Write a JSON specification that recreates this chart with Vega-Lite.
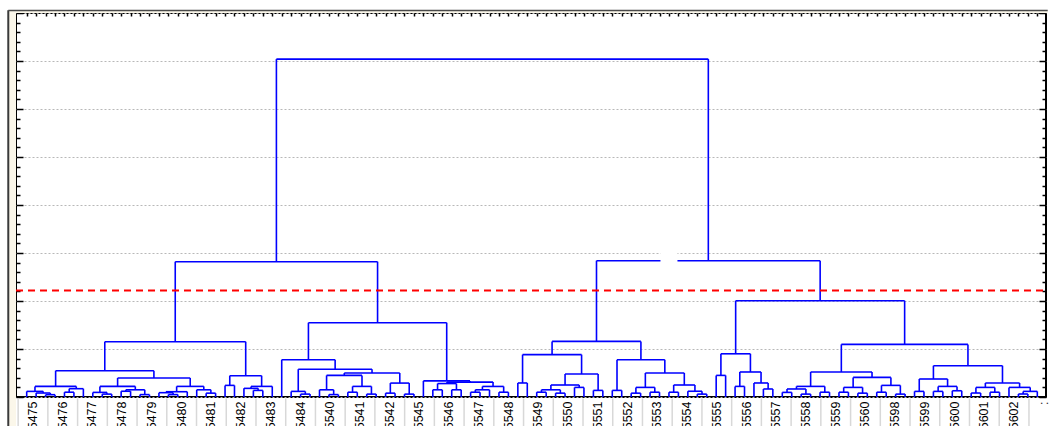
{
  "$schema": "https://vega.github.io/schema/vega-lite/v6.json",
  "width": 1030,
  "height": 384,
  "autosize": {"type": "none"},
  "padding": {"left": 16, "top": 13, "right": 3, "bottom": 29},
  "background": "#ffffff",
  "config": {
    "view": {"stroke": "#000000", "strokeWidth": 2},
    "axis": {"labels": false, "title": null, "domain": false}
  },
  "datasets": {
    "one": [{"k": 1}],
    "merges": [
      {"l": 2, "lh": 0, "r": 3, "rh": 0, "h": 0.048},
      {"l": 1, "lh": 0, "r": 2.5, "rh": 0.048, "h": 0.083},
      {"l": 0, "lh": 0, "r": 1.75, "rh": 0.083, "h": 0.117},
      {"l": 4, "lh": 0, "r": 5, "rh": 0, "h": 0.1},
      {"l": 4.5, "lh": 0.1, "r": 6, "rh": 0, "h": 0.173},
      {"l": 0.875, "lh": 0.117, "r": 5.25, "rh": 0.173, "h": 0.221},
      {"l": 8, "lh": 0, "r": 9, "rh": 0, "h": 0.06},
      {"l": 7, "lh": 0, "r": 8.5, "rh": 0.06, "h": 0.096},
      {"l": 10, "lh": 0, "r": 11, "rh": 0, "h": 0.12},
      {"l": 12, "lh": 0, "r": 13, "rh": 0, "h": 0.05},
      {"l": 10.5, "lh": 0.12, "r": 12.5, "rh": 0.05, "h": 0.15},
      {"l": 7.75, "lh": 0.096, "r": 11.5, "rh": 0.15, "h": 0.221},
      {"l": 15, "lh": 0, "r": 16, "rh": 0, "h": 0.05},
      {"l": 14, "lh": 0, "r": 15.5, "rh": 0.05, "h": 0.09},
      {"l": 14.75, "lh": 0.09, "r": 17, "rh": 0, "h": 0.11},
      {"l": 19, "lh": 0, "r": 20, "rh": 0, "h": 0.08},
      {"l": 18, "lh": 0, "r": 19.5, "rh": 0.08, "h": 0.15},
      {"l": 15.875, "lh": 0.11, "r": 18.75, "rh": 0.15, "h": 0.221},
      {"l": 9.625, "lh": 0.221, "r": 17.3125, "rh": 0.221, "h": 0.396},
      {"l": 3.0625, "lh": 0.221, "r": 13.46875, "rh": 0.396, "h": 0.548},
      {"l": 21, "lh": 0, "r": 22, "rh": 0, "h": 0.242},
      {"l": 24, "lh": 0, "r": 25, "rh": 0, "h": 0.1375},
      {"l": 23, "lh": 0, "r": 24.5, "rh": 0.1375, "h": 0.18},
      {"l": 23.75, "lh": 0.18, "r": 26, "rh": 0, "h": 0.221},
      {"l": 21.5, "lh": 0.242, "r": 24.875, "rh": 0.221, "h": 0.444},
      {"l": 8.265625, "lh": 0.548, "r": 23.1875, "rh": 0.444, "h": 1.152},
      {"l": 29, "lh": 0, "r": 30, "rh": 0, "h": 0.06},
      {"l": 28, "lh": 0, "r": 29.5, "rh": 0.06, "h": 0.117},
      {"l": 32, "lh": 0, "r": 33, "rh": 0, "h": 0.05},
      {"l": 31, "lh": 0, "r": 32.5, "rh": 0.05, "h": 0.15},
      {"l": 34, "lh": 0, "r": 35, "rh": 0, "h": 0.1},
      {"l": 36, "lh": 0, "r": 37, "rh": 0, "h": 0.06},
      {"l": 34.5, "lh": 0.1, "r": 36.5, "rh": 0.06, "h": 0.221},
      {"l": 31.75, "lh": 0.15, "r": 35.5, "rh": 0.221, "h": 0.45},
      {"l": 38, "lh": 0, "r": 39, "rh": 0, "h": 0.08},
      {"l": 40, "lh": 0, "r": 41, "rh": 0, "h": 0.06},
      {"l": 38.5, "lh": 0.08, "r": 40.5, "rh": 0.06, "h": 0.29},
      {"l": 33.625, "lh": 0.45, "r": 39.5, "rh": 0.29, "h": 0.5},
      {"l": 28.75, "lh": 0.117, "r": 36.5625, "rh": 0.5, "h": 0.579},
      {"l": 27, "lh": 0, "r": 32.65625, "rh": 0.579, "h": 0.777},
      {"l": 43, "lh": 0, "r": 44, "rh": 0, "h": 0.15},
      {"l": 45, "lh": 0, "r": 46, "rh": 0, "h": 0.15},
      {"l": 43.5, "lh": 0.15, "r": 45.5, "rh": 0.15, "h": 0.28},
      {"l": 47, "lh": 0, "r": 48, "rh": 0, "h": 0.1},
      {"l": 47.5, "lh": 0.1, "r": 49, "rh": 0, "h": 0.15},
      {"l": 50, "lh": 0, "r": 51, "rh": 0, "h": 0.1},
      {"l": 48.25, "lh": 0.15, "r": 50.5, "rh": 0.1, "h": 0.22},
      {"l": 44.5, "lh": 0.28, "r": 49.375, "rh": 0.22, "h": 0.31},
      {"l": 42, "lh": 0, "r": 46.9375, "rh": 0.31, "h": 0.335},
      {"l": 29.828125, "lh": 0.777, "r": 44.46875, "rh": 0.335, "h": 1.548},
      {"l": 15.7265625, "lh": 1.152, "r": 37.1484375, "rh": 1.548, "h": 2.819},
      {"l": 52, "lh": 0, "r": 53, "rh": 0, "h": 0.292},
      {"l": 54, "lh": 0, "r": 55, "rh": 0, "h": 0.1},
      {"l": 56, "lh": 0, "r": 57, "rh": 0, "h": 0.08},
      {"l": 54.5, "lh": 0.1, "r": 56.5, "rh": 0.08, "h": 0.15},
      {"l": 58, "lh": 0, "r": 59, "rh": 0, "h": 0.2},
      {"l": 55.5, "lh": 0.15, "r": 58.5, "rh": 0.2, "h": 0.25},
      {"l": 60, "lh": 0, "r": 61, "rh": 0, "h": 0.1375},
      {"l": 57, "lh": 0.25, "r": 60.5, "rh": 0.1375, "h": 0.479},
      {"l": 52.5, "lh": 0.292, "r": 58.75, "rh": 0.479, "h": 0.883},
      {"l": 62, "lh": 0, "r": 63, "rh": 0, "h": 0.1375},
      {"l": 64, "lh": 0, "r": 65, "rh": 0, "h": 0.08},
      {"l": 66, "lh": 0, "r": 67, "rh": 0, "h": 0.1},
      {"l": 64.5, "lh": 0.08, "r": 66.5, "rh": 0.1, "h": 0.2},
      {"l": 68, "lh": 0, "r": 69, "rh": 0, "h": 0.1},
      {"l": 71, "lh": 0, "r": 72, "rh": 0, "h": 0.06},
      {"l": 70, "lh": 0, "r": 71.5, "rh": 0.06, "h": 0.12},
      {"l": 68.5, "lh": 0.1, "r": 70.75, "rh": 0.12, "h": 0.25},
      {"l": 65.5, "lh": 0.2, "r": 69.625, "rh": 0.25, "h": 0.5},
      {"l": 62.5, "lh": 0.1375, "r": 67.5625, "rh": 0.5, "h": 0.777},
      {"l": 55.625, "lh": 0.883, "r": 65.03125, "rh": 0.777, "h": 1.158},
      {"l": 73, "lh": 0, "r": 74, "rh": 0, "h": 0.45},
      {"l": 75, "lh": 0, "r": 76, "rh": 0, "h": 0.221},
      {"l": 78, "lh": 0, "r": 79, "rh": 0, "h": 0.167},
      {"l": 77, "lh": 0, "r": 78.5, "rh": 0.167, "h": 0.292},
      {"l": 75.5, "lh": 0.221, "r": 77.75, "rh": 0.292, "h": 0.521},
      {"l": 73.5, "lh": 0.45, "r": 76.625, "rh": 0.521, "h": 0.9},
      {"l": 80, "lh": 0, "r": 81, "rh": 0, "h": 0.096},
      {"l": 82, "lh": 0, "r": 83, "rh": 0, "h": 0.06},
      {"l": 80.5, "lh": 0.096, "r": 82.5, "rh": 0.06, "h": 0.167},
      {"l": 84, "lh": 0, "r": 85, "rh": 0, "h": 0.1},
      {"l": 81.5, "lh": 0.167, "r": 84.5, "rh": 0.1, "h": 0.221},
      {"l": 86, "lh": 0, "r": 87, "rh": 0, "h": 0.1},
      {"l": 88, "lh": 0, "r": 89, "rh": 0, "h": 0.08},
      {"l": 86.5, "lh": 0.1, "r": 88.5, "rh": 0.08, "h": 0.2},
      {"l": 90, "lh": 0, "r": 91, "rh": 0, "h": 0.1},
      {"l": 92, "lh": 0, "r": 93, "rh": 0, "h": 0.06},
      {"l": 90.5, "lh": 0.1, "r": 92.5, "rh": 0.06, "h": 0.242},
      {"l": 87.5, "lh": 0.2, "r": 91.5, "rh": 0.242, "h": 0.408},
      {"l": 83, "lh": 0.221, "r": 89.5, "rh": 0.408, "h": 0.521},
      {"l": 94, "lh": 0, "r": 95, "rh": 0, "h": 0.117},
      {"l": 96, "lh": 0, "r": 97, "rh": 0, "h": 0.117},
      {"l": 98, "lh": 0, "r": 99, "rh": 0, "h": 0.13},
      {"l": 96.5, "lh": 0.117, "r": 98.5, "rh": 0.13, "h": 0.221},
      {"l": 94.5, "lh": 0.117, "r": 97.5, "rh": 0.221, "h": 0.375},
      {"l": 100, "lh": 0, "r": 101, "rh": 0, "h": 0.083},
      {"l": 102, "lh": 0, "r": 103, "rh": 0, "h": 0.1},
      {"l": 100.5, "lh": 0.083, "r": 102.5, "rh": 0.1, "h": 0.2},
      {"l": 105, "lh": 0, "r": 106, "rh": 0, "h": 0.0625},
      {"l": 105.5, "lh": 0.0625, "r": 107, "rh": 0, "h": 0.117},
      {"l": 104, "lh": 0, "r": 106.25, "rh": 0.117, "h": 0.2},
      {"l": 101.5, "lh": 0.2, "r": 105.125, "rh": 0.2, "h": 0.292},
      {"l": 96, "lh": 0.375, "r": 103.3125, "rh": 0.292, "h": 0.652},
      {"l": 86.25, "lh": 0.521, "r": 99.65625, "rh": 0.652, "h": 1.096},
      {"l": 75.0625, "lh": 0.9, "r": 92.953125, "rh": 1.096, "h": 2.006},
      {"l": 60.328125, "lh": 1.158, "r": 84.0078125, "rh": 2.006, "h": 2.84},
      {"l": 26.4375, "lh": 2.819, "r": 72.16796875, "rh": 2.84, "h": 7.04}
    ],
    "labels": [
      {"pos": 0.667, "label": "5475"}, {"pos": 3.815, "label": "5476"}, {"pos": 6.962, "label": "5477"},
      {"pos": 10.11, "label": "5478"}, {"pos": 13.258, "label": "5479"}, {"pos": 16.405, "label": "5480"},
      {"pos": 19.553, "label": "5481"}, {"pos": 22.701, "label": "5482"}, {"pos": 25.849, "label": "5483"},
      {"pos": 28.996, "label": "5484"}, {"pos": 32.144, "label": "5540"}, {"pos": 35.292, "label": "5541"},
      {"pos": 38.439, "label": "5542"}, {"pos": 41.587, "label": "5545"}, {"pos": 44.735, "label": "5546"},
      {"pos": 47.883, "label": "5547"}, {"pos": 51.03, "label": "5548"}, {"pos": 54.178, "label": "5549"},
      {"pos": 57.326, "label": "5550"}, {"pos": 60.473, "label": "5551"}, {"pos": 63.621, "label": "5552"},
      {"pos": 66.769, "label": "5553"}, {"pos": 69.916, "label": "5554"}, {"pos": 73.064, "label": "5555"},
      {"pos": 76.212, "label": "5556"}, {"pos": 79.36, "label": "5557"}, {"pos": 82.507, "label": "5558"},
      {"pos": 85.655, "label": "5559"}, {"pos": 88.803, "label": "5560"}, {"pos": 91.95, "label": "5598"},
      {"pos": 95.098, "label": "5599"}, {"pos": 98.246, "label": "5600"}, {"pos": 101.393, "label": "5601"},
      {"pos": 104.541, "label": "5602"}, {"pos": 107.689, "label": ":"}
    ]
  },
  "resolve": {"axis": {"x": "independent", "y": "independent"}},
  "layer": [
    {
      "data": {"name": "one"},
      "mark": {"type": "rect", "fill": "#fbf7ea"},
      "encoding": {
        "x": {"datum": -1.874, "scale": {"domain": [-1.133, 107.92], "nice": false, "zero": false}, "axis": null},
        "x2": {"datum": -1.133},
        "y": {"datum": 8.05, "scale": {"domain": [0, 8], "nice": false, "zero": false}, "axis": null},
        "y2": {"datum": -0.62}
      }
    },
    {
      "data": {"name": "one"},
      "mark": {"type": "rect", "fill": "#fbf7ea"},
      "encoding": {
        "x": {"datum": -1.874, "scale": {"domain": [-1.133, 107.92], "nice": false, "zero": false}, "axis": null},
        "x2": {"datum": 108.1},
        "y": {"datum": 8.05, "scale": {"domain": [0, 8], "nice": false, "zero": false}, "axis": null},
        "y2": {"datum": 8}
      }
    },
    {
      "data": {"name": "one"},
      "mark": {"type": "rule", "color": "#3a3a3a", "strokeWidth": 2},
      "encoding": {
        "x": {"datum": -1.95, "scale": {"domain": [-1.133, 107.92], "nice": false, "zero": false}, "axis": null},
        "y": {"datum": 8.055, "scale": {"domain": [0, 8], "nice": false, "zero": false}, "axis": null},
        "y2": {"datum": -0.62}
      }
    },
    {
      "data": {"name": "one"},
      "mark": {"type": "rule", "color": "#4a4a4a", "strokeWidth": 1.5},
      "encoding": {
        "x": {"datum": -1.95, "scale": {"domain": [-1.133, 107.92], "nice": false, "zero": false}, "axis": null},
        "x2": {"datum": 108.1},
        "y": {"datum": 8.05, "scale": {"domain": [0, 8], "nice": false, "zero": false}, "axis": null}
      }
    },
    {
      "data": {"name": "merges"},
      "mark": {"type": "rule", "color": "#0000ff", "strokeWidth": 1.6},
      "encoding": {
        "x": {"field": "l", "type": "quantitative", "scale": {"domain": [-1.133, 107.92], "nice": false, "zero": false}, "axis": null},
        "y": {
          "field": "lh", "type": "quantitative",
          "scale": {"domain": [0, 8], "nice": false, "zero": false},
          "axis": {
            "orient": "left", "labels": false, "domain": false, "title": null,
            "values": [0,0.2,0.4,0.6,0.8,1,1.2,1.4,1.6,1.8,2,2.2,2.4,2.6,2.8,3,3.2,3.4,3.6,3.8,4,4.2,4.4,4.6,4.8,5,5.2,5.4,5.6,5.8,6,6.2,6.4,6.6,6.8,7,7.2,7.4,7.6,7.8,8],
            "tickColor": "#000000", "tickWidth": 1.5,
            "tickSize": {"condition": {"test": "abs(datum.value - round(datum.value)) < 0.01", "value": -7}, "value": -4},
            "grid": true, "gridColor": "#b8b8b8", "gridDash": [2, 2], "gridWidth": 1,
            "gridOpacity": {"condition": {"test": "abs(datum.value - round(datum.value)) < 0.01", "value": 1}, "value": 0}
          }
        },
        "y2": {"field": "h"}
      }
    },
    {
      "data": {"name": "merges"},
      "mark": {"type": "rule", "color": "#0000ff", "strokeWidth": 1.6},
      "encoding": {
        "x": {
          "field": "r", "type": "quantitative",
          "scale": {"domain": [-1.133, 107.92], "nice": false, "zero": false},
          "axis": {
            "orient": "top", "labels": false, "domain": false, "title": null, "grid": false,
            "values": [0,1,2,3,4,5,6,7,8,9,10,11,12,13,14,15,16,17,18,19,20,21,22,23,24,25,26,27,28,29,30,31,32,33,34,35,36,37,38,39,40,41,42,43,44,45,46,47,48,49,50,51,52,53,54,55,56,57,58,59,60,61,62,63,64,65,66,67,68,69,70,71,72,73,74,75,76,77,78,79,80,81,82,83,84,85,86,87,88,89,90,91,92,93,94,95,96,97,98,99,100,101,102,103,104,105,106,107],
            "tickColor": "#000000", "tickWidth": 1.5, "tickSize": -3
          }
        },
        "y": {
          "field": "rh", "type": "quantitative",
          "scale": {"domain": [0, 8], "nice": false, "zero": false},
          "axis": {
            "orient": "right", "labels": false, "domain": false, "title": null, "grid": false,
            "values": [0,0.2,0.4,0.6,0.8,1,1.2,1.4,1.6,1.8,2,2.2,2.4,2.6,2.8,3,3.2,3.4,3.6,3.8,4,4.2,4.4,4.6,4.8,5,5.2,5.4,5.6,5.8,6,6.2,6.4,6.6,6.8,7,7.2,7.4,7.6,7.8,8],
            "tickColor": "#000000", "tickWidth": 1.5,
            "tickSize": {"condition": {"test": "abs(datum.value - round(datum.value)) < 0.01", "value": -7}, "value": -4}
          }
        },
        "y2": {"field": "h"}
      }
    },
    {
      "data": {"name": "merges"},
      "mark": {"type": "rule", "color": "#0000ff", "strokeWidth": 1.6},
      "encoding": {
        "x": {"field": "l", "type": "quantitative", "scale": {"domain": [-1.133, 107.92], "nice": false, "zero": false}, "axis": null},
        "x2": {"field": "r"},
        "y": {"field": "h", "type": "quantitative", "scale": {"domain": [0, 8], "nice": false, "zero": false}, "axis": null}
      }
    },
    {
      "data": {"name": "one"},
      "mark": {"type": "rect", "fill": "#ffffff"},
      "encoding": {
        "x": {"datum": 67.1, "scale": {"domain": [-1.133, 107.92], "nice": false, "zero": false}, "axis": null},
        "x2": {"datum": 68.9},
        "y": {"datum": 3.06, "scale": {"domain": [0, 8], "nice": false, "zero": false}, "axis": null},
        "y2": {"datum": 2.79}
      }
    },
    {
      "data": {"name": "one"},
      "mark": {"type": "rule", "color": "#ff0000", "strokeWidth": 2, "strokeDash": [7, 5]},
      "encoding": {
        "x": {"datum": -1.133, "scale": {"domain": [-1.133, 107.92], "nice": false, "zero": false}, "axis": null},
        "x2": {"datum": 107.92},
        "y": {"datum": 2.22, "scale": {"domain": [0, 8], "nice": false, "zero": false}, "axis": null}
      }
    },
    {
      "data": {"name": "labels"},
      "mark": {"type": "rule", "color": "#d8d8d8", "strokeWidth": 1.5, "xOffset": -14.86},
      "encoding": {
        "x": {"field": "pos", "type": "quantitative", "scale": {"domain": [-1.133, 107.92], "nice": false, "zero": false}, "axis": null},
        "y": {"datum": -0.03, "scale": {"domain": [0, 8], "nice": false, "zero": false}, "axis": null},
        "y2": {"datum": -0.62}
      }
    },
    {
      "data": {"name": "labels"},
      "mark": {"type": "text", "angle": 270, "align": "right", "baseline": "middle", "font": "Liberation Sans", "fontSize": 12.5, "color": "#000000"},
      "encoding": {
        "x": {"field": "pos", "type": "quantitative", "scale": {"domain": [-1.133, 107.92], "nice": false, "zero": false}, "axis": null},
        "y": {"datum": -0.094, "scale": {"domain": [0, 8], "nice": false, "zero": false}, "axis": null},
        "text": {"field": "label"}
      }
    }
  ]
}
